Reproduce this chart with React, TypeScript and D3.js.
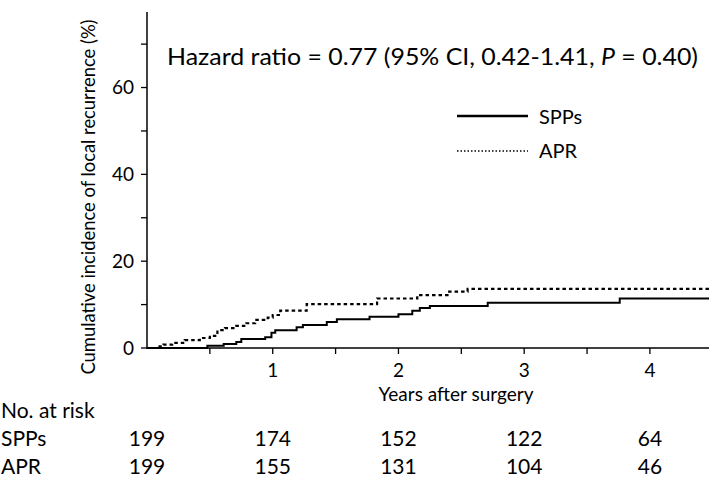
import React from "react";
import * as d3 from "d3";

const groups = ["SPPs", "APR"];
const sppsSteps: [number, number][] = [
  [0, 0], [0.48, 0.5], [0.61, 0.9], [0.71, 1.4], [0.75, 2.1], [0.94, 2.5], [0.99, 3.5],
  [1.02, 4.1], [1.19, 4.8], [1.24, 5.3], [1.43, 6.0], [1.51, 6.6], [1.77, 7.2], [2.0, 7.8],
  [2.11, 8.6], [2.17, 9.2], [2.25, 9.7], [2.71, 10.4], [3.76, 11.4], [4.47, 11.4],
];
const aprSteps: [number, number][] = [
  [0, 0], [0.1, 0.4], [0.13, 0.8], [0.2, 1.2], [0.3, 1.8], [0.42, 2.3], [0.5, 2.8],
  [0.56, 4.1], [0.62, 4.6], [0.71, 5.1], [0.79, 5.7], [0.86, 6.5], [0.96, 7.0],
  [1.0, 7.6], [1.06, 8.6], [1.27, 10.1], [1.83, 11.4], [2.15, 12.2], [2.39, 13.0],
  [2.55, 13.6], [4.47, 13.6],
];
const yMajorTicks = [0, 20, 40, 60];
const yMinorTicks = [10, 30, 50, 70];
const xMajorTicks = [1, 2, 3, 4];
const xMinorTicks = [0.5, 1.5, 2.5, 3.5];
const riskTimes = [0, 1, 2, 3, 4];
const riskSPPs = [199, 174, 152, 122, 64];
const riskAPR = [199, 155, 131, 104, 46];

const FONT = "Lato, 'Open Sans', sans-serif";

export default function App() {
  const W = 709, H = 478;
  const x = d3.scaleLinear().domain([0, 4.47]).range([147, 709]);
  const y = d3.scaleLinear().domain([0, 77.4]).range([348, 12]);
  const line = d3.line<[number, number]>().x(d => x(d[0])).y(d => y(d[1])).curve(d3.curveStepAfter);

  return (
    <svg width={W} height={H} style={{ position: "absolute", left: 0, top: 0, background: "#fff" }} fontFamily={FONT}>
      <rect x={0} y={0} width={W} height={H} fill="#fff" />
      {/* axes */}
      <line x1={x(0)} x2={x(0)} y1={12} y2={349} stroke="#000" strokeWidth={1.5} />
      <line x1={x(0)} x2={709} y1={y(0)} y2={y(0)} stroke="#000" strokeWidth={1.5} />
      {[...yMajorTicks, ...yMinorTicks].map(t => (
        <line key={"yt" + t} x1={x(0) - 6} x2={x(0)} y1={y(t)} y2={y(t)} stroke="#000" strokeWidth={1.3} />
      ))}
      {[...xMajorTicks, ...xMinorTicks].map(t => (
        <line key={"xt" + t} x1={x(t)} x2={x(t)} y1={y(0)} y2={y(0) + 6} stroke="#000" strokeWidth={1.3} />
      ))}
      {yMajorTicks.map(t => (
        <text key={"yl" + t} x={x(0) - 13} y={y(t)} dy="0.36em" textAnchor="end" fontSize={19} fill="#000">{t}</text>
      ))}
      {xMajorTicks.map(t => (
        <text key={"xl" + t} x={x(t)} y={377} textAnchor="middle" fontSize={19} fill="#000">{t}</text>
      ))}
      <text x={456} y={401} textAnchor="middle" fontSize={19} fill="#000">Years after surgery</text>
      <text transform={`translate(95,197) rotate(-90)`} textAnchor="middle" fontSize={19} fill="#000"
        textLength={355} lengthAdjust="spacingAndGlyphs">Cumulative incidence of local recurrence (%)</text>

      {/* curves */}
      <path d={line(aprSteps) || ""} fill="none" stroke="#000" strokeWidth={2.2} strokeDasharray="3.5,3" />
      <path d={line(sppsSteps) || ""} fill="none" stroke="#000" strokeWidth={2} />

      {/* hazard text */}
      <text x={167} y={65} fontSize={23} fill="#000" textLength={531} lengthAdjust="spacingAndGlyphs">
        Hazard ratio = 0.77 (95% CI, 0.42-1.41, <tspan fontStyle="italic">P</tspan> = 0.40)
      </text>

      {/* legend */}
      <line x1={457} x2={528} y1={116} y2={116} stroke="#000" strokeWidth={2.5} />
      <text x={539} y={117} dy="0.36em" fontSize={20} fill="#000">{groups[0]}</text>
      <line x1={457} x2={528} y1={151} y2={151} stroke="#000" strokeWidth={1.5} strokeDasharray="1.5,2" />
      <text x={539} y={151} dy="0.36em" fontSize={20} fill="#000">{groups[1]}</text>

      {/* risk table */}
      <text x={1} y={418} fontSize={21} fill="#000">No. at risk</text>
      <text x={1} y={446} fontSize={21} fill="#000">{groups[0]}</text>
      <text x={1} y={474} fontSize={21} fill="#000">{groups[1]}</text>
      {riskTimes.map((t, i) => (
        <text key={"rs" + t} x={x(t)} y={446} textAnchor="middle" fontSize={21} fill="#000">{riskSPPs[i]}</text>
      ))}
      {riskTimes.map((t, i) => (
        <text key={"ra" + t} x={x(t)} y={474} textAnchor="middle" fontSize={21} fill="#000">{riskAPR[i]}</text>
      ))}
    </svg>
  );
}
